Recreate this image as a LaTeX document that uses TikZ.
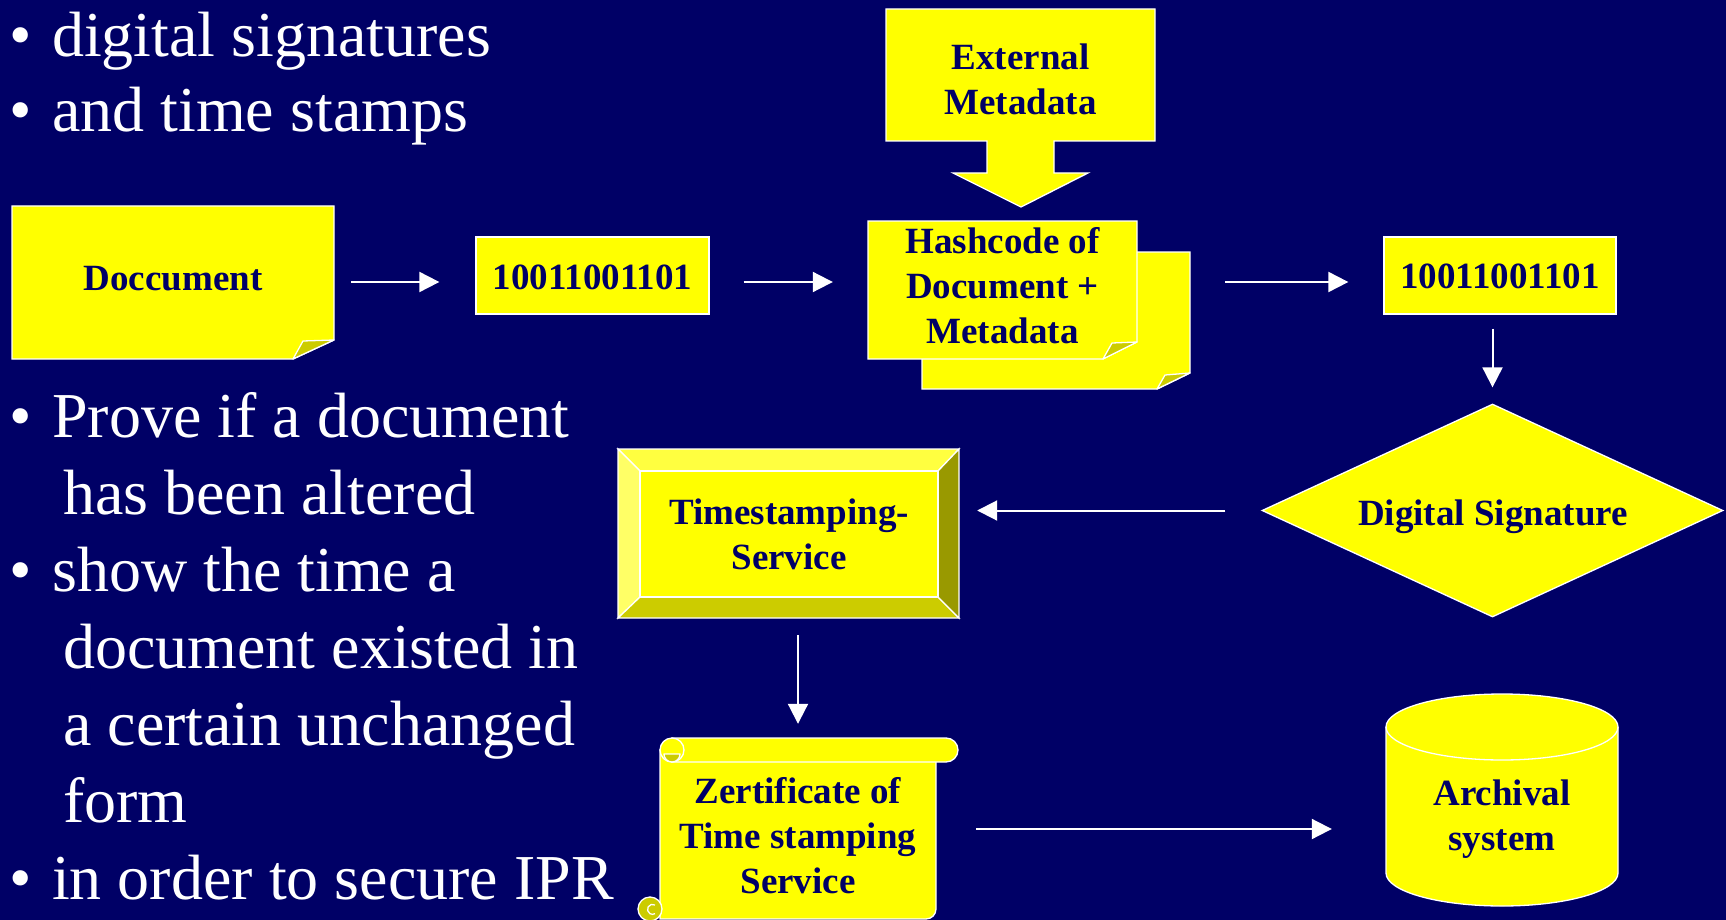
\documentclass[tikz,border=0pt]{standalone}
\usepackage{fontspec}
\setmainfont{Liberation Serif}
\usetikzlibrary{arrows.meta,shapes.geometric}
\definecolor{navy}{HTML}{000066}
\definecolor{yel}{HTML}{FFFF00}
\definecolor{foldc}{HTML}{CCCC00}
\definecolor{bevtop}{HTML}{FFFF40}
\definecolor{bevleft}{HTML}{FFFF66}
\definecolor{bevbot}{HTML}{CCCC00}
\definecolor{bevright}{HTML}{999900}
\begin{document}
\begin{tikzpicture}[x=1pt,y=-1pt,
  ybox/.style={fill=yel,draw=white,line width=1.3pt,line join=miter},
  foldst/.style={fill=foldc,draw=white,line width=1.3pt,line join=round},
  lbl/.style={text=navy,font=\fontsize{37}{45}\selectfont\bfseries,align=center,inner sep=0pt,anchor=base},
  bul/.style={text=white,font=\fontsize{64}{77}\selectfont,anchor=base west,inner sep=0pt},
  dotst/.style={text=white,font=\fontsize{64}{77}\selectfont,anchor=base,inner sep=0pt},
  hold/.style={rectangle,draw=none,inner sep=0pt},
  arr/.style={draw=white,line width=2pt,-{Triangle[length=20pt,width=20pt]}}]
\fill[navy] (0,0) rectangle (1726,920);
\useasboundingbox (0,0) rectangle (1726,920);

% ---- bullet text
\node[dotst] (b1) at (21,57) {•};
\node[bul] (t1) at (52,57) {digital signatures};
\node[dotst] (b2) at (21,132) {•};
\node[bul] (t2) at (52,132) {and time stamps};
\node[dotst] (b3) at (21,437) {•};
\node[bul] (t3) at (52,437) {Prove if a document};
\node[bul] (t4) at (63,514) {has been altered};
\node[dotst] (b5) at (21,591) {•};
\node[bul] (t5) at (52,591) {show the time a};
\node[bul] (t6) at (63,668) {document existed in};
\node[bul] (t7) at (63,745) {a certain unchanged};
\node[bul] (t8) at (63,822) {form};
\node[dotst] (b9) at (21,899) {•};
\node[bul] (t9) at (52,899) {in order to secure IPR};

% ---- Document
\node[hold,minimum width=322pt,minimum height=153pt] (doc) at (173,282.5) {};
\draw[ybox] (12,206) -- (334,206) -- (334,340) -- (293,359) -- (12,359) -- cycle;
\draw[foldst] (293,359) -- (303,341) -- (334,340) -- cycle;
\node[lbl] (docl) at (173,290) {Doccument};

% ---- number boxes
\node[ybox,inner sep=0pt,minimum width=233pt,minimum height=77pt] (num1) at (592.5,275.5) {};
\node[lbl] (num1l) at (592.5,289) {10011001101};
\node[ybox,inner sep=0pt,minimum width=232pt,minimum height=77pt] (num2) at (1500,275.5) {};
\node[lbl] (num2l) at (1500,288) {10011001101};

% ---- External metadata callout
\node[hold,minimum width=269pt,minimum height=132pt] (ext) at (1020.5,75) {};
\draw[ybox] (886,9) -- (1155,9) -- (1155,141) -- (1054,141) -- (1054,173) -- (1088,173)
  -- (1021,207) -- (953,173) -- (987,173) -- (987,141) -- (886,141) -- cycle;
\node[lbl] (extl) at (1020.5,115) {External\\Metadata};

% ---- Hashcode stack
\node[hold,minimum width=268pt,minimum height=137pt] (hashb) at (1056,320.5) {};
\draw[ybox] (922,252) -- (1190,252) -- (1190,373) -- (1157,389) -- (922,389) -- cycle;
\draw[foldst] (1157,389) -- (1165,375) -- (1190,373) -- cycle;
\node[hold,minimum width=269pt,minimum height=138pt] (hash) at (1002.5,290) {};
\draw[ybox] (868,221) -- (1137,221) -- (1137,342) -- (1103,359) -- (868,359) -- cycle;
\draw[foldst] (1103,359) -- (1112,343) -- (1137,342) -- cycle;
\node[lbl] (hashl) at (1002.5,343) {Hashcode of\\Document +\\Metadata};

% ---- Timestamping service (bevel)
\node[hold,minimum width=341pt,minimum height=169pt] (ts) at (788.5,533.5) {};
\draw[fill=bevtop,draw=white,line width=1.3pt] (618,449) -- (959,449) -- (938,471) -- (640,471) -- cycle;
\draw[fill=bevleft,draw=white,line width=1.3pt] (618,449) -- (640,471) -- (640,597) -- (618,618) -- cycle;
\draw[fill=bevbot,draw=white,line width=1.3pt] (618,618) -- (640,597) -- (938,597) -- (959,618) -- cycle;
\draw[fill=bevright,draw=white,line width=1.3pt] (959,449) -- (959,618) -- (938,597) -- (938,471) -- cycle;
\draw[ybox] (640,471) rectangle (938,597);
\node[lbl] (tsl) at (789,569) {Timestamping-\\Service};

% ---- Digital signature diamond
\node[diamond,ybox,inner sep=0pt,minimum width=461pt,minimum height=213pt] (dsig) at (1492.5,510.5) {};
\node[lbl] (dsigl) at (1493,525) {Digital Signature};

% ---- Scroll (certificate)
\node[hold,minimum width=276pt,minimum height=182pt] (zert) at (798,829) {};
\draw[ybox] (660,750) -- (936,750) -- (936,909) arc[start angle=0,end angle=-90,radius=10pt]
  -- (660,919) -- cycle;
\draw[ybox] (672,738) -- (946,738) arc[start angle=90,end angle=-90,radius=12pt] -- (672,762) -- cycle;
\draw[ybox] (672,750) circle[radius=12pt];
\draw[foldst] (664,754) arc[start angle=180,end angle=360,radius=8pt] -- cycle;
\draw[foldst] (650,909) circle[radius=12pt];
\draw[white,line width=1.3pt] (655,905) arc[start angle=60,end angle=300,radius=5pt];
\node[lbl] (zertl) at (798,893) {Zertificate of\\Time stamping\\Service};

% ---- Archival cylinder
\node[hold,minimum width=232pt,minimum height=213pt] (arch) at (1502,800) {};
\draw[ybox] (1386,727) -- (1386,873) arc[start angle=180,end angle=360,x radius=116pt,y radius=33pt]
  -- (1618,727) arc[start angle=0,end angle=180,x radius=116pt,y radius=33pt] -- cycle;
\draw[white,line width=1.3pt] (1386,727) arc[start angle=180,end angle=360,x radius=116pt,y radius=33pt];
\node[lbl] (archl) at (1502,850) {Archival\\system};

% ---- connectors
\coordinate (row) at (0,282);
\draw[arr,shorten <=17pt,shorten >=36pt] (doc.east |- row) -- (num1.west |- row);
\draw[arr,shorten <=34pt,shorten >=35pt] (num1.east |- row) -- (hash.west |- row);
\draw[arr,shorten <=35pt,shorten >=35pt] (hashb.east |- row) -- (num2.west |- row);
\draw[arr,shorten <=14pt,shorten >=16pt] (num2.south -| dsig.north) -- (dsig.north);
\draw[arr,shorten <=36pt,shorten >=18pt] (dsig.west) -- (dsig.west -| ts.east);
\draw[arr,shorten <=17pt,shorten >=14pt] (ts.south -| zert.north) -- (zert.north);
\draw[arr,shorten <=40pt,shorten >=54pt] (zert.east) -- (zert.east -| arch.west);
\end{tikzpicture}
\end{document}
